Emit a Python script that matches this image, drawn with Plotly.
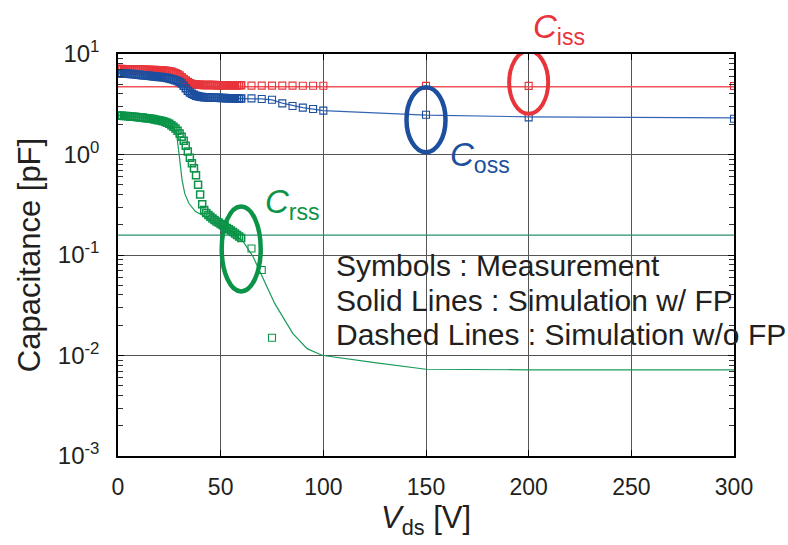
import plotly.graph_objects as go

# ---- measured sweep (dense part, 0-60 V in 1 V steps) ----
v_dense = list(range(0, 61))

ciss_dense = [7.10, 7.09, 7.08, 7.07, 7.06, 7.05, 7.04, 7.03, 7.02, 7.01,
              7.00, 6.99, 6.98, 6.97, 6.96, 6.95, 6.94, 6.93, 6.92, 6.91,
              6.89, 6.87, 6.85, 6.82, 6.78, 6.72, 6.64, 6.55, 6.45, 6.30,
              6.10, 5.88, 5.65, 5.45, 5.25, 5.12, 5.04, 4.99, 4.96, 4.94,
              4.93, 4.92, 4.92, 4.92, 4.91, 4.91, 4.91, 4.91, 4.90, 4.90,
              4.90, 4.90, 4.89, 4.89, 4.89, 4.89, 4.89, 4.88, 4.88, 4.88,
              4.88]

coss_dense = [6.45, 6.43, 6.41, 6.39, 6.37, 6.35, 6.33, 6.31, 6.28, 6.25,
              6.22, 6.19, 6.16, 6.13, 6.10, 6.07, 6.04, 6.01, 5.98, 5.95,
              5.92, 5.89, 5.86, 5.83, 5.78, 5.72, 5.65, 5.57, 5.48, 5.39,
              5.28, 5.08, 4.82, 4.55, 4.32, 4.15, 4.02, 3.92, 3.84, 3.79,
              3.76, 3.74, 3.72, 3.71, 3.70, 3.69, 3.68, 3.67, 3.67, 3.66,
              3.65, 3.65, 3.64, 3.63, 3.63, 3.62, 3.62, 3.61, 3.61, 3.60,
              3.60]

crss_dense = [2.44, 2.43, 2.43, 2.42, 2.41, 2.40, 2.39, 2.38, 2.37, 2.36,
              2.35, 2.34, 2.33, 2.31, 2.30, 2.28, 2.27, 2.25, 2.23, 2.21,
              2.19, 2.17, 2.14, 2.11, 2.07, 2.02, 1.96, 1.89, 1.81, 1.72,
              1.62, 1.50, 1.37, 1.22, 1.07, 0.93, 0.82, 0.73, 0.62, 0.50,
              0.40, 0.32, 0.28, 0.262, 0.250, 0.240, 0.231, 0.223, 0.216, 0.210,
              0.204, 0.198, 0.192, 0.186, 0.180, 0.175, 0.169, 0.164, 0.158, 0.153,
              0.148]

# ---- measured sweep (sparse part) ----
v_sparse = [65, 70, 75, 80, 85, 90, 95, 100, 150, 200, 300]
ciss_sparse = [4.85, 4.85, 4.84, 4.84, 4.84, 4.83, 4.83, 4.83, 4.82, 4.82, 4.80]
coss_sparse = [3.62, 3.57, 3.51, 3.23, 3.04, 2.93, 2.84, 2.73, 2.49, 2.34, 2.27]
v_crss_sparse = [65, 70, 75]
crss_sparse = [0.116, 0.071, 0.015]

# ---- simulation with field plate ----
v_ciss_sim = [0, 50, 100, 150, 200, 250, 300]
ciss_sim = [4.73, 4.73, 4.73, 4.73, 4.73, 4.73, 4.73]

v_coss_sim = [0, 10, 20, 25, 30, 32, 34, 36, 38, 40, 45, 50, 60, 70, 75, 80,
              90, 100, 125, 150, 200, 250, 300]
coss_sim = [6.40, 6.20, 5.90, 5.70, 5.30, 4.90, 4.35, 4.00, 3.82, 3.75, 3.69,
            3.65, 3.60, 3.57, 3.50, 3.25, 2.93, 2.73, 2.58, 2.47, 2.37, 2.34, 2.31]

v_crss_sim = [0, 10, 20, 25, 27, 28.5, 29.5, 30.4, 31.2, 32.5, 34.5, 37.7, 40.9,
              45, 50, 55, 61, 65.8, 71.1, 76.3, 85.1, 92.1, 98.2, 100, 125, 150,
              200, 250, 300]
crss_sim = [2.45, 2.38, 2.22, 2.05, 1.90, 1.60, 1.11, 0.76, 0.56, 0.41, 0.327,
            0.27, 0.25, 0.225, 0.200, 0.172, 0.136, 0.096, 0.056, 0.033, 0.0166,
            0.0117, 0.0103, 0.0100, 0.0085, 0.0073, 0.0072, 0.0072, 0.0072]

v_crss_flat = [0, 300]
crss_flat = [0.158, 0.158]

# ---- axis ticks ----
x_ticks = [0, 50, 100, 150, 200, 250, 300]
y_ticks = [0.001, 0.01, 0.1, 1, 10]
y_ticktext = ["10<sup>-3</sup>", "10<sup>-2</sup>", "10<sup>-1</sup>",
              "10<sup>0</sup>", "10<sup>1</sup>"]

RED = "#e8343b"
BLUE = "#1d4f9f"
GREEN = "#0b9448"
TEXT = "#231f20"
FONT = "Liberation Sans, Arial, Helvetica, sans-serif"
PX_PER_DECADE = 100.5   # plot height 402 px over 4 decades

fig = go.Figure()


def sim_line(x, y, color, width=1.2):
    fig.add_trace(go.Scatter(x=x, y=y, mode="lines",
                             line=dict(color=color, width=width),
                             hoverinfo="skip"))


def meas(x, y, color, lw=1.1):
    fig.add_trace(go.Scatter(x=x, y=y, mode="markers",
                             marker=dict(symbol="square-open", size=7,
                                         color=color, line=dict(width=lw, color=color)),
                             hoverinfo="skip"))


# simulation lines
sim_line(v_crss_flat, crss_flat, "#2b8f70", 1.3)
sim_line(v_ciss_sim, ciss_sim, "#ef5257", 1.5)
sim_line(v_coss_sim, coss_sim, "#3464b3", 1.2)
sim_line(v_crss_sim, crss_sim, "#1a9c5a", 1.2)

# measurements
meas(v_dense, ciss_dense, RED, 1.5)
meas(v_sparse, ciss_sparse, RED)
meas(v_dense, coss_dense, BLUE, 1.5)
meas(v_sparse, coss_sparse, BLUE)
meas(v_dense, crss_dense, GREEN, 1.5)
meas(v_crss_sparse, crss_sparse, GREEN)


# ellipses highlighting each curve: width in pixels, height in decades
def ring(xa, ya, rx, ry, dy, color, width):
    lo = ya * 10 ** ((dy - ry) / PX_PER_DECADE)
    hi = ya * 10 ** ((dy + ry) / PX_PER_DECADE)
    fig.add_shape(type="circle", xref="x", yref="y",
                  xsizemode="pixel", xanchor=xa,
                  x0=-rx, x1=rx, y0=lo, y1=hi,
                  line=dict(color=color, width=width), layer="above")


ring(v_sparse[9], ciss_sparse[9], 19.5, 31.5, 3.5, RED, 4)
ring(v_sparse[8], coss_sparse[8], 19.5, 32.5, -5, BLUE, 4.5)
ring(v_dense[60], crss_dense[60], 19.5, 42.5, -11, GREEN, 4.5)


def label(x, y, sub, color):
    fig.add_annotation(xref="paper", yref="paper", x=x, y=y,
                       xanchor="left", yanchor="middle", showarrow=False,
                       text="<i>C</i><sub>" + sub + "</sub>",
                       font=dict(family=FONT, size=33, color=color))


label(0.670, 1.062, "iss", RED)
label(0.536, 0.744, "oss", BLUE)
label(0.236, 0.627, "rss", GREEN)

notes = ["Symbols : Measurement",
         "Solid Lines : Simulation w/ FP",
         "Dashed Lines : Simulation w/o FP"]
for i, t in enumerate(notes):
    fig.add_annotation(xref="paper", yref="paper", x=0.350, y=0.475 - i * 0.087,
                       xanchor="left", yanchor="middle", showarrow=False,
                       text=t, font=dict(family=FONT, size=30, color=TEXT))

fig.update_layout(
    width=788, height=545,
    margin=dict(l=118, r=54, t=54, b=89),
    paper_bgcolor="white", plot_bgcolor="white",
    showlegend=False,
    font=dict(family=FONT, color=TEXT),
)

fig.update_xaxes(
    range=[0, 300], tickvals=x_ticks,
    showgrid=True, gridcolor="#555555", gridwidth=1.2,
    showline=True, linecolor="black", linewidth=1.5, mirror="allticks",
    ticks="inside", ticklen=6, tickcolor="black",
    tickfont=dict(family=FONT, size=23, color=TEXT),
    ticklabelstandoff=10, zeroline=False,
    title=dict(text="<i>V</i><sub>ds</sub> [V]",
               font=dict(family=FONT, size=31, color=TEXT), standoff=4),
)

fig.update_yaxes(
    type="log", range=[-3, 1],
    tickvals=y_ticks, ticktext=y_ticktext,
    showgrid=True, gridcolor="#555555", gridwidth=1.2,
    showline=True, linecolor="black", linewidth=1.5, mirror="allticks",
    ticks="inside", ticklen=6, tickcolor="black",
    minor=dict(ticks="inside", ticklen=5, tickcolor="#333333", dtick="D1",
               showgrid=False),
    tickfont=dict(family=FONT, size=24, color=TEXT),
    ticklabelstandoff=12, zeroline=False,
    title=dict(text="Capacitance [pF]",
               font=dict(family=FONT, size=31, color=TEXT), standoff=8),
)

fig.write_html("out.html")
